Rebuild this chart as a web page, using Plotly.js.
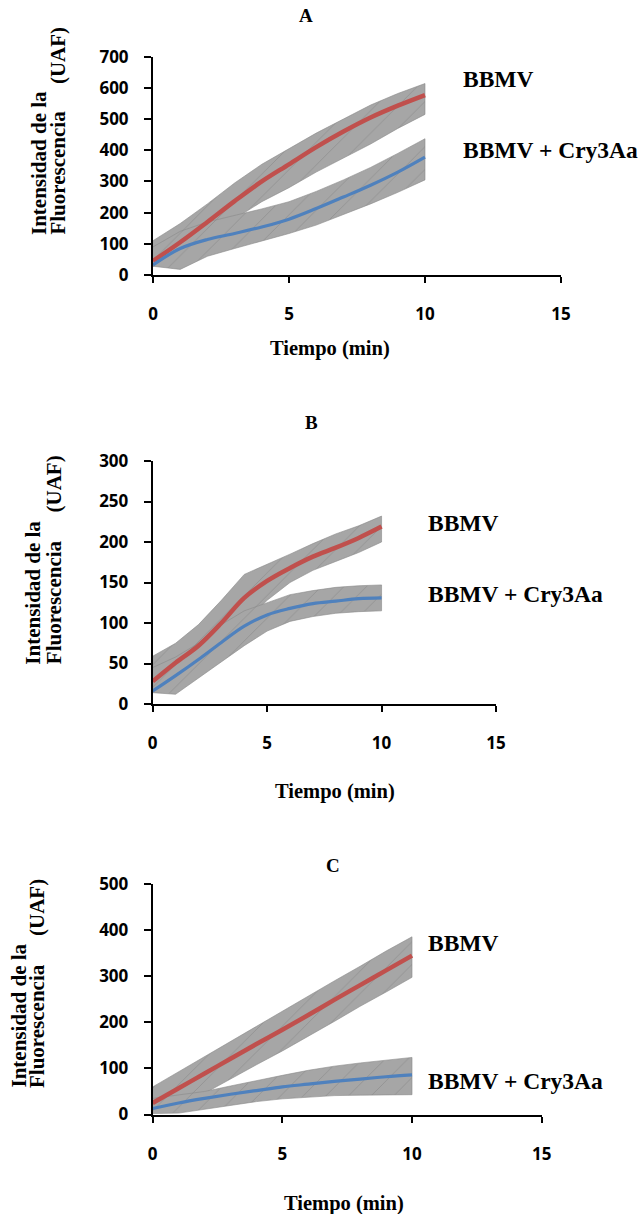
<!DOCTYPE html>
<html>
<head>
<meta charset="utf-8">
<script src="https://cdn.plot.ly/plotly-3.0.1.min.js"></script>
<style>html,body{margin:0;padding:0;background:#fff;}#chart{width:642px;height:1214px;}</style>
</head>
<body>
<div id="chart"></div>
<script>
// ---- data ----
const tiempo = [0, 1, 2, 3, 4, 5, 6, 7, 8, 9, 10];
const panelTitles = ["A", "B", "C"];
const seriesNames = ["BBMV", "BBMV + Cry3Aa"];
const xTitle = "Tiempo (min)";
const yTitleLine1 = "Intensidad de la";
const yTitleLine2 = "Fluorescencia";
const yTitleUnit = "(UAF)";

// Panel A
const bbmvA    = [45, 105, 170, 237, 300, 355, 410, 460, 505, 543, 577];
const bbmvA_hi = [110, 165, 228, 295, 355, 405, 455, 500, 545, 582, 614];
const bbmvA_lo = [28, 55, 115, 180, 235, 280, 330, 375, 420, 470, 515];
const cryA     = [32, 85, 114, 133, 154, 179, 213, 250, 288, 330, 378];
const cryA_hi  = [90, 140, 170, 190, 212, 235, 268, 305, 345, 390, 437];
const cryA_lo  = [28, 18, 60, 85, 110, 133, 160, 195, 228, 265, 305];

// Panel B
const bbmvB    = [28, 51, 72, 100, 131, 152, 168, 182, 193, 205, 219];
const bbmvB_hi = [59, 75, 98, 128, 160, 172, 185, 198, 210, 220, 232];
const bbmvB_lo = [15, 25, 45, 72, 100, 128, 150, 165, 176, 187, 200];
const cryB     = [16, 35, 55, 76, 96, 110, 118, 124, 127, 130, 131];
const cryB_hi  = [45, 58, 75, 98, 115, 125, 135, 140, 144, 146, 147];
const cryB_lo  = [14, 12, 32, 52, 72, 90, 102, 108, 112, 114, 115];

// Panel C
const bbmvC    = [25, 57, 89, 121, 153, 184, 216, 249, 281, 313, 345];
const bbmvC_hi = [60, 93, 126, 159, 192, 224, 257, 290, 322, 355, 386];
const bbmvC_lo = [5, 15, 45, 77, 108, 138, 170, 202, 235, 266, 298];
const cryC     = [13, 25, 35, 44, 52, 60, 66, 72, 77, 82, 86];
const cryC_hi  = [35, 42, 50, 62, 74, 85, 96, 105, 112, 118, 124];
const cryC_lo  = [2, 3, 12, 20, 28, 34, 38, 41, 42, 43, 43];

const yRanges = [[0, 700], [0, 300], [0, 500]];
const yDticks = [100, 50, 100];

// ---- styling / layout ----
const W = 642, H = 1214;
const px = v => v / W;
const py = v => 1 - v / H;

const RED = '#c0504d', BLUE = '#4f81bd', BAND = '#a6a6a6', BANDLINE = '#8a8a8a';
const serif = {family: 'Liberation Serif, Times New Roman, serif', color: '#000', weight: 'bold'};
const tickFont = {family: 'Open Sans, sans-serif', size: 17, color: '#000', weight: 'bold'};

const panels = [
  {mean: [bbmvA, cryA], hi: [bbmvA_hi, cryA_hi], lo: [bbmvA_lo, cryA_lo],
   xd: [153, 561], yd: [56.7, 275],
   title: [306, 15], xt: [330, 348],
   lab: [[461, 79], [461, 150]],
   yt: {x1: 39, x2: 57.6, bottom: 237, unitY: 55.5}},
  {mean: [bbmvB, cryB], hi: [bbmvB_hi, cryB_hi], lo: [bbmvB_lo, cryB_lo],
   xd: [152.7, 496], yd: [461, 704],
   title: [311, 423], xt: [335, 792],
   lab: [[426, 523], [426, 594]],
   yt: {x1: 33, x2: 53.5, bottom: 666.7, unitY: 484}},
  {mean: [bbmvC, cryC], hi: [bbmvC_hi, cryC_hi], lo: [bbmvC_lo, cryC_lo],
   xd: [152.7, 541.7], yd: [884.3, 1114.5],
   title: [333, 865], xt: [344, 1203],
   lab: [[426, 943], [426, 1081]],
   yt: {x1: 18.5, x2: 37, bottom: 1090, unitY: 908}}
];

const traces = [];
const layout = {
  width: W, height: H,
  margin: {l: 0, r: 0, t: 0, b: 0},
  paper_bgcolor: '#fff', plot_bgcolor: '#fff',
  showlegend: false,
  annotations: []
};

panels.forEach((p, i) => {
  const sfx = i === 0 ? '' : String(i + 1);
  const xa = 'x' + sfx, ya = 'y' + sfx;
  // error bands
  for (let s = 0; s < 2; s++) {
    traces.push({
      x: tiempo.concat(tiempo.slice().reverse()),
      y: p.hi[s].concat(p.lo[s].slice().reverse()),
      xaxis: xa, yaxis: ya, type: 'scatter', mode: 'lines',
      fill: 'toself', fillcolor: BAND,
      fillpattern: {shape: '/', fgcolor: '#939393', bgcolor: BAND, size: 16, solidity: 0.06},
      line: {color: BANDLINE, width: 0.6},
      hoverinfo: 'skip'
    });
  }
  // mean lines
  traces.push({x: tiempo, y: p.mean[0], xaxis: xa, yaxis: ya, type: 'scatter', mode: 'lines',
               line: {color: RED, width: 4.5, shape: 'spline'}, name: seriesNames[0]});
  traces.push({x: tiempo, y: p.mean[1], xaxis: xa, yaxis: ya, type: 'scatter', mode: 'lines',
               line: {color: BLUE, width: 3.2, shape: 'spline'}, name: seriesNames[1]});

  layout['xaxis' + sfx] = {
    domain: [px(p.xd[0]), px(p.xd[1])], anchor: ya,
    range: [0, 15], tick0: 0, dtick: 5,
    showline: true, linecolor: '#000', linewidth: 2,
    ticks: 'outside', ticklen: 6, tickwidth: 2, tickcolor: '#000',
    showgrid: false, zeroline: false, tickfont: tickFont, ticklabelstandoff: 17
  };
  layout['yaxis' + sfx] = {
    domain: [py(p.yd[1]), py(p.yd[0])], anchor: xa,
    range: yRanges[i], tick0: 0, dtick: yDticks[i],
    showline: true, linecolor: '#000', linewidth: 2,
    ticks: 'outside', ticklen: 7, tickwidth: 2, tickcolor: '#000',
    showgrid: false, zeroline: false, tickfont: tickFont, ticklabelstandoff: 12
  };

  const A = layout.annotations;
  A.push({xref: 'paper', yref: 'paper', x: px(p.title[0]), y: py(p.title[1]), xanchor: 'center', yanchor: 'middle',
          text: panelTitles[i], showarrow: false, font: Object.assign({size: 19}, serif)});
  A.push({xref: 'paper', yref: 'paper', x: px(p.xt[0]), y: py(p.xt[1]), xanchor: 'center', yanchor: 'middle',
          text: xTitle, showarrow: false, font: Object.assign({size: 20.5}, serif)});
  A.push({xref: 'paper', yref: 'paper', x: px(p.lab[0][0]), y: py(p.lab[0][1]), xanchor: 'left', yanchor: 'middle',
          text: seriesNames[0], showarrow: false, font: Object.assign({size: 23.5}, serif)});
  A.push({xref: 'paper', yref: 'paper', x: px(p.lab[1][0]), y: py(p.lab[1][1]), xanchor: 'left', yanchor: 'middle',
          text: seriesNames[1], showarrow: false, font: Object.assign({size: 23.5}, serif)});
  A.push({xref: 'paper', yref: 'paper', x: px(p.yt.x1), y: py(p.yt.bottom), xanchor: 'center', yanchor: 'bottom',
          text: yTitleLine1, textangle: -90, showarrow: false, font: Object.assign({size: 21}, serif)});
  A.push({xref: 'paper', yref: 'paper', x: px(p.yt.x2), y: py(p.yt.bottom), xanchor: 'center', yanchor: 'bottom',
          text: yTitleLine2, textangle: -90, showarrow: false, font: Object.assign({size: 21}, serif)});
  A.push({xref: 'paper', yref: 'paper', x: px(p.yt.x2), y: py(p.yt.unitY), xanchor: 'center', yanchor: 'middle',
          text: yTitleUnit, textangle: -90, showarrow: false, font: Object.assign({size: 21}, serif)});
});

Plotly.newPlot('chart', traces, layout, {staticPlot: true, displayModeBar: false});
</script>
</body>
</html>
